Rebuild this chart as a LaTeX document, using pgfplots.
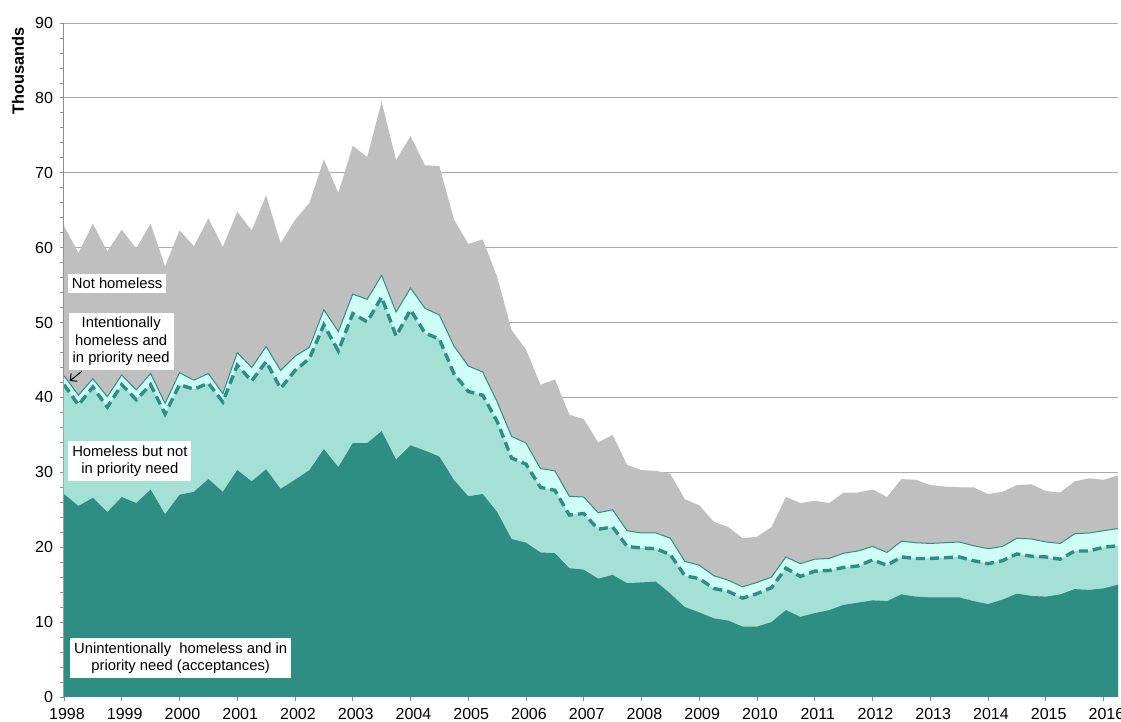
\documentclass[border=0pt]{standalone}
\usepackage{pgfplots}
\pgfplotsset{compat=1.18}
\usepackage{pgfplotstable}
\usepackage{fontspec}
\setmainfont{Liberation Sans}
\usetikzlibrary{arrows.meta}
\definecolor{dteal}{RGB}{46,142,131}
\definecolor{lteal}{RGB}{165,224,215}
\definecolor{cyanb}{RGB}{205,255,246}
\definecolor{ngray}{RGB}{191,191,191}
\definecolor{gridc}{RGB}{170,170,170}
\definecolor{axc}{RGB}{140,140,140}

\pgfplotstableread{
x c1 c2 c3 c4
1998.00 27.1 41.7 42.9 62.9
1998.25 25.5 39.0 40.3 59.3
1998.50 26.6 41.4 42.5 63.2
1998.75 24.7 38.7 40.1 59.5
1999.00 26.7 41.7 43.0 62.4
1999.25 25.9 39.7 41.0 59.9
1999.50 27.7 41.7 43.2 63.2
1999.75 24.4 37.8 39.2 57.5
2000.00 27.0 41.7 43.3 62.3
2000.25 27.4 41.1 42.3 60.2
2000.50 29.1 41.9 43.2 63.9
2000.75 27.4 39.4 40.5 60.1
2001.00 30.3 44.3 46.0 64.8
2001.25 28.8 42.2 44.0 62.3
2001.50 30.4 44.8 46.8 67.0
2001.75 27.8 41.2 43.6 60.6
2002.00 29.0 43.6 45.5 63.7
2002.25 30.3 45.2 46.7 66.0
2002.50 33.1 49.7 51.7 71.8
2002.75 30.7 46.2 48.8 67.3
2003.00 33.9 51.2 53.8 73.6
2003.25 33.9 50.1 53.1 72.1
2003.50 35.5 53.4 56.3 79.5
2003.75 31.7 48.2 51.4 71.7
2004.00 33.6 51.7 54.6 74.9
2004.25 32.9 48.6 51.9 71.0
2004.50 32.1 47.8 51.0 70.9
2004.75 29.0 43.2 46.9 63.8
2005.00 26.8 40.8 44.2 60.5
2005.25 27.1 40.3 43.4 61.1
2005.50 24.7 36.8 39.4 56.1
2005.75 21.1 31.9 34.8 49.0
2006.00 20.6 31.1 33.9 46.4
2006.25 19.3 28.0 30.5 41.7
2006.50 19.2 27.6 30.2 42.4
2006.75 17.2 24.3 26.8 37.7
2007.00 17.0 24.5 26.7 37.1
2007.25 15.8 22.4 24.6 34.0
2007.50 16.3 22.7 25.0 35.0
2007.75 15.2 20.1 22.2 31.0
2008.00 15.3 19.9 21.9 30.3
2008.25 15.4 19.8 21.9 30.2
2008.50 13.8 19.0 21.2 29.8
2008.75 12.0 16.2 18.1 26.4
2009.00 11.3 15.8 17.6 25.6
2009.25 10.5 14.5 16.2 23.4
2009.50 10.2 14.1 15.6 22.7
2009.75 9.4 13.2 14.7 21.2
2010.00 9.4 13.8 15.3 21.4
2010.25 10.0 14.6 16.0 22.7
2010.50 11.6 17.2 18.7 26.7
2010.75 10.7 16.1 17.8 25.9
2011.00 11.2 16.8 18.4 26.2
2011.25 11.6 16.9 18.5 25.9
2011.50 12.3 17.3 19.2 27.3
2011.75 12.6 17.5 19.5 27.3
2012.00 12.9 18.3 20.1 27.7
2012.25 12.8 17.6 19.3 26.7
2012.50 13.7 18.7 20.8 29.1
2012.75 13.4 18.5 20.6 29.0
2013.00 13.3 18.5 20.5 28.3
2013.25 13.3 18.6 20.6 28.1
2013.50 13.3 18.7 20.7 28.0
2013.75 12.8 18.2 20.2 28.0
2014.00 12.4 17.8 19.8 27.1
2014.25 13.0 18.2 20.1 27.4
2014.50 13.8 19.1 21.2 28.3
2014.75 13.5 18.8 21.1 28.4
2015.00 13.4 18.7 20.7 27.5
2015.25 13.7 18.4 20.5 27.3
2015.50 14.4 19.5 21.8 28.8
2015.75 14.3 19.5 21.9 29.2
2016.00 14.5 20.0 22.2 29.0
2016.25 15.0 20.2 22.5 29.6
}\data

\begin{document}
\begin{tikzpicture}
\begin{axis}[
  scale only axis, width=527pt, height=337pt,
  xmin=1998, xmax=2016.25, ymin=0, ymax=90,
  axis x line*=bottom, axis y line*=left,
  axis line style={draw=axc, line width=0.5pt},
  xtick={1998,...,2016}, minor x tick num=3,
  ytick={0,10,...,90}, minor y tick num=4,
  tick align=outside, major tick length=2pt, minor tick length=2pt,
  tick style={draw=axc, line width=0.4pt},
  axis on top=false,
  ymajorgrids,
  grid style={draw=gridc, line width=0.5pt},
  /pgf/number format/1000 sep={},
  /pgf/number format/assume math mode=true,
  ticklabel style={font=\fontsize{8}{9.6}\selectfont},
  xticklabel style={xshift=1.5pt},
  ylabel={Thousands},
  ylabel style={at={(rel axis cs:-0.0436,0.9288)}, anchor=center, font=\bfseries\fontsize{8.2}{10}\selectfont},
]
\addplot[draw=none, fill=ngray] table[x=x,y=c4]{\data} \closedcycle;
\addplot[draw=none, fill=cyanb] table[x=x,y=c3]{\data} \closedcycle;
\addplot[draw=none, fill=lteal] table[x=x,y=c2]{\data} \closedcycle;
\addplot[draw=none, fill=dteal] table[x=x,y=c1]{\data} \closedcycle;
\addplot[dteal, line width=0.5pt] table[x=x,y=c3]{\data};
\addplot[dteal, line width=1.7pt, dash pattern=on 4.5pt off 2.5pt] table[x=x,y=c2]{\data};

\node[fill=white, inner sep=2pt, font=\fontsize{7.4}{8.6}\selectfont] at (axis cs:1998.92,55.27) {Not homeless};
\node[fill=white, inner sep=2pt, align=center, font=\fontsize{7.4}{8.8}\selectfont] at (axis cs:1998.99,47.5) {Intentionally\\homeless and\\in priority need};
\node[fill=white, inner sep=2pt, align=center, font=\fontsize{7.4}{8.8}\selectfont] at (axis cs:1999.14,31.5) {Homeless but not\\in priority need};
\node[fill=white, inner sep=2pt, align=center, font=\fontsize{7.4}{8.8}\selectfont] at (axis cs:2000.02,5.2) {Unintentionally\ \ homeless and in\\priority need (acceptances)};
\draw[-{Straight Barb[length=2.5pt,width=5pt]}, black, line width=0.5pt] (axis cs:1998.31,43.5) -- (axis cs:1998.10,42.2);
\end{axis}
\pgfresetboundingbox
\useasboundingbox (-32pt,-12.5pt) rectangle (528.5pt,348.5pt);
\end{tikzpicture}
\end{document}
